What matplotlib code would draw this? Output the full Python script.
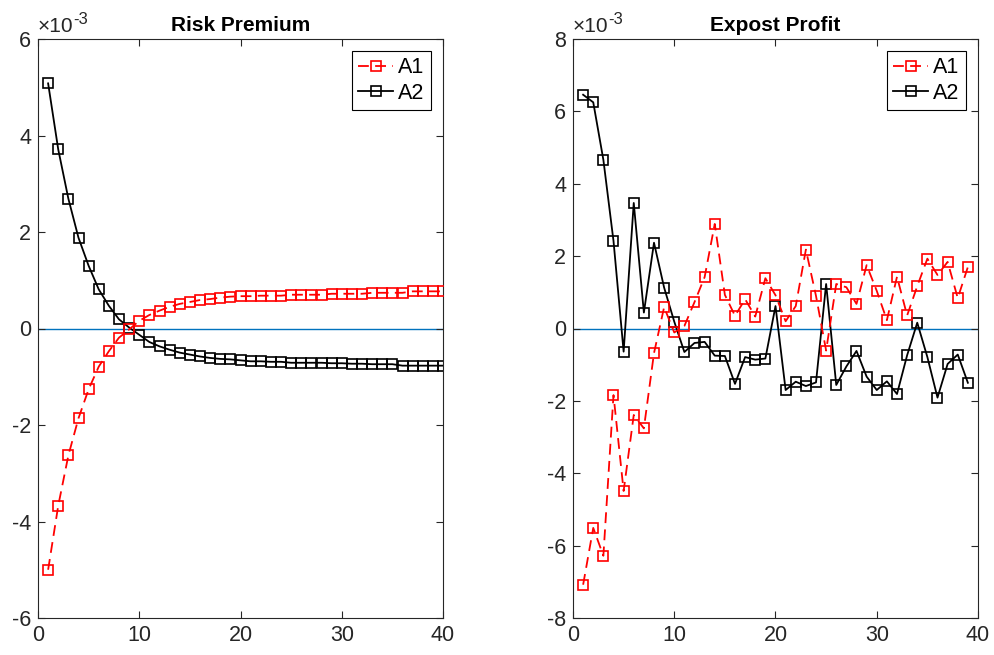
import numpy as np
import matplotlib
matplotlib.use("Agg")
import matplotlib.pyplot as plt
from matplotlib.ticker import FuncFormatter

plt.rcParams['font.family'] = ['Liberation Sans', 'DejaVu Sans']
plt.rcParams['axes.unicode_minus'] = False

periods_rp = list(range(1, 41))
periods_ep = list(range(1, 40))

rp_a1 = [-5.0, -3.67, -2.63, -1.86, -1.26, -0.79, -0.47, -0.19, -0.02, 0.16,
         0.28, 0.37, 0.45, 0.51, 0.55, 0.59, 0.61, 0.64, 0.66, 0.67,
         0.67, 0.68, 0.68, 0.68, 0.70, 0.70, 0.70, 0.70, 0.72, 0.72,
         0.72, 0.72, 0.74, 0.74, 0.74, 0.74, 0.77, 0.77, 0.77, 0.77]
rp_a2 = [5.08, 3.71, 2.69, 1.88, 1.30, 0.81, 0.47, 0.19, 0.02, -0.13,
         -0.28, -0.37, -0.44, -0.50, -0.54, -0.58, -0.61, -0.63, -0.64, -0.66,
         -0.68, -0.68, -0.69, -0.69, -0.71, -0.71, -0.71, -0.71, -0.72, -0.72,
         -0.73, -0.73, -0.74, -0.74, -0.74, -0.77, -0.77, -0.77, -0.77, -0.77]

ep_a1 = [-7.08, -5.51, -6.28, -1.84, -4.49, -2.39, -2.76, -0.68, 0.59, -0.11,
         0.07, 0.73, 1.42, 2.89, 0.93, 0.35, 0.81, 0.33, 1.39, 0.92,
         0.20, 0.62, 2.18, 0.90, -0.61, 1.23, 1.14, 0.68, 1.75, 1.04,
         0.23, 1.43, 0.36, 1.17, 1.93, 1.48, 1.84, 0.84, 1.70]
ep_a2 = [6.46, 6.25, 4.66, 2.42, -0.64, 3.47, 0.44, 2.37, 1.13, 0.19,
         -0.65, -0.40, -0.37, -0.75, -0.76, -1.53, -0.79, -0.86, -0.83, 0.62,
         -1.70, -1.47, -1.59, -1.49, 1.23, -1.56, -1.05, -0.62, -1.33, -1.70,
         -1.46, -1.81, -0.74, 0.16, -0.79, -1.91, -0.98, -0.72, -1.50]

scale = 1e-3
titles = ["Risk Premium", "Expost Profit"]
ylims = [(-6e-3, 6e-3), (-8e-3, 8e-3)]
yticks = [np.arange(-6, 7, 2) * scale, np.arange(-8, 9, 2) * scale]

fig = plt.figure(figsize=(9.95, 6.55), dpi=100)
axes = [fig.add_axes([38/995, 37/655, 405/995, 579/655]),
        fig.add_axes([573/995, 37/655, 405/995, 579/655])]

data = [(periods_rp, rp_a1, rp_a2), (periods_ep, ep_a1, ep_a2)]
tc = '#262626'
yfmt = FuncFormatter(lambda v, p: '%g' % round(v / scale, 6))
for i, ax in enumerate(axes):
    x, a1, a2 = data[i]
    ax.axhline(0, color='#0072BD', lw=1.0, zorder=1)
    ax.plot(x, np.array(a1) * scale, color='red', ls='--', lw=1.3, dashes=(6, 3.5),
            marker='s', mfc='none', mec='red', ms=7.5, mew=1.2, label='A1', zorder=3)
    ax.plot(x, np.array(a2) * scale, color='black', ls='-', lw=1.3,
            marker='s', mfc='none', mec='black', ms=7.5, mew=1.2, label='A2', zorder=2)
    ax.set_xlim(0, 40)
    ax.set_ylim(*ylims[i])
    ax.set_xticks([0, 10, 20, 30, 40])
    ax.set_yticks(yticks[i])
    ax.yaxis.set_major_formatter(yfmt)
    ax.tick_params(direction='in', top=True, right=True, labelsize=15.5,
                   colors=tc, length=5, width=0.8, pad=5)
    for s in ax.spines.values():
        s.set_color(tc)
        s.set_linewidth(0.8)
    ax.set_title(titles[i], fontsize=15, fontweight='bold', color='black', pad=6)
    base = ax.text(0.0, 1.006, '\u00d710', transform=ax.transAxes, fontsize=15,
                   color=tc, ha='left', va='bottom')
    ax.annotate('-3', xy=(1.0, 0.45), xycoords=base, fontsize=12,
                color=tc, ha='left', va='bottom')
    leg = ax.legend(loc='upper right', fontsize=15.5, fancybox=False,
                    edgecolor='black', framealpha=1, handlelength=1.6,
                    handletextpad=0.25, borderpad=0.3, labelspacing=0.2,
                    borderaxespad=0.55)
    leg.get_frame().set_linewidth(0.8)

fig.savefig("out.png", dpi=100)
